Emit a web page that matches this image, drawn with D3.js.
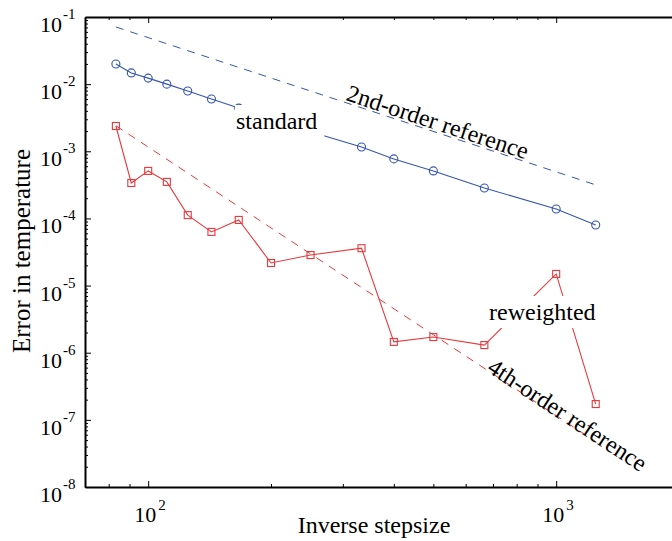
<!DOCTYPE html>
<html>
<head>
<meta charset="utf-8">
<script src="https://cdn.jsdelivr.net/npm/d3@7"></script>
<style>
  body { margin: 0; background: #fff; }
  svg { display: block; font-family: "Liberation Serif", "Times New Roman", serif; }
</style>
</head>
<body>
<div id="chart"></div>
<script>
// inverse stepsize (1/h) for every run
const stepsizes = [83.33, 90.91, 100, 111.1, 125, 142.9, 166.7, 200, 250, 333.3, 400, 500, 666.7, 1000, 1250];
const standardErr = [2.0e-2, 1.47e-2, 1.23e-2, 1.0e-2, 7.9e-3, 6.0e-3, 4.4e-3, 3.1e-3, 1.95e-3, 1.16e-3, 7.7e-4, 5.1e-4, 2.84e-4, 1.38e-4, 8.0e-5];
const reweightedErr = [2.38e-3, 3.37e-4, 5.1e-4, 3.5e-4, 1.12e-4, 6.3e-5, 9.5e-5, 2.17e-5, 2.85e-5, 3.6e-5, 1.45e-6, 1.71e-6, 1.30e-6, 1.49e-5, 1.72e-7];
// reference slopes, endpoints only
const refX = [83.33, 1250];
const ref2Err = [7.1e-2, 3.16e-4];
const ref4Err = [2.4e-3, 4.74e-8];

const yMajor = [-1, -2, -3, -4, -5, -6, -7, -8];
const xMajor = [2, 3];

const width = 672, height = 541;
const blue = "#3556b0", red = "#e8383c";

const svg = d3.select("#chart").append("svg")
    .attr("width", width)
    .attr("height", height);

const x = d3.scaleLog().domain([70, 2000]).range([85, 679]);
const y = d3.scaleLog().domain([1e-8, 1e-1]).range([487, 17]);

// minor tick positions
const yMinor = [];
for (let e = -8; e < -1; e++) for (let m = 2; m <= 9; m++) yMinor.push(m * Math.pow(10, e));
const xMinor = [];
for (let e = 1; e < 4; e++) for (let m = 2; m <= 9; m++) {
    const v = m * Math.pow(10, e);
    if (v > 70 && v < 2000) xMinor.push(v);
}

function styleAxis(g) {
    g.select(".domain").attr("stroke", "#000").attr("stroke-width", 2);
    g.selectAll(".tick line").attr("stroke", "#000").attr("stroke-width", 1);
}

// left axis
svg.append("g").attr("transform", "translate(85,0)")
    .call(d3.axisLeft(y).tickValues(yMinor).tickSize(-3).tickSizeOuter(0).tickFormat(""))
    .call(styleAxis);
svg.append("g").attr("transform", "translate(85,0)")
    .call(d3.axisLeft(y).tickValues(yMajor.map(e => Math.pow(10, e))).tickSize(-6).tickSizeOuter(0).tickFormat(""))
    .call(g => g.select(".domain").remove())
    .call(styleAxis);

// bottom axis
svg.append("g").attr("transform", "translate(0,487)")
    .call(d3.axisBottom(x).tickValues(xMinor).tickSize(-3).tickSizeOuter(0).tickFormat(""))
    .call(styleAxis);
svg.append("g").attr("transform", "translate(0,487)")
    .call(d3.axisBottom(x).tickValues(xMajor.map(e => Math.pow(10, e))).tickSize(-6).tickSizeOuter(0).tickFormat(""))
    .call(g => g.select(".domain").remove())
    .call(styleAxis);

// top box edge
svg.append("g").attr("transform", "translate(0,17)")
    .call(d3.axisTop(x).tickValues(xMinor).tickSize(-3).tickSizeOuter(0).tickFormat(""))
    .call(styleAxis);
svg.append("g").attr("transform", "translate(0,17)")
    .call(d3.axisTop(x).tickValues(xMajor.map(e => Math.pow(10, e))).tickSize(-6).tickSizeOuter(0).tickFormat(""))
    .call(g => g.select(".domain").remove())
    .call(styleAxis);

// tick labels 10^n
yMajor.forEach(e => {
    const yy = y(Math.pow(10, e));
    svg.append("text").attr("x", 62).attr("y", yy + 15)
        .attr("text-anchor", "end").style("font-size", "22px").text("10");
    svg.append("text").attr("x", 63).attr("y", yy + 2)
        .style("font-size", "15px").text(e);
});
xMajor.forEach(e => {
    const xx = x(Math.pow(10, e));
    svg.append("text").attr("x", xx + 8).attr("y", 522)
        .attr("text-anchor", "end").style("font-size", "22px").text("10");
    svg.append("text").attr("x", xx + 10).attr("y", 510)
        .style("font-size", "15px").text(e);
});

svg.append("text").attr("x", 374).attr("y", 533)
    .attr("text-anchor", "middle").style("font-size", "24px").text("Inverse stepsize");
svg.append("text")
    .attr("transform", "translate(30,251)rotate(-90)")
    .attr("text-anchor", "middle").style("font-size", "25px").text("Error in temperature");

const line = d3.line().x(d => x(d[0])).y(d => y(d[1]));

// reference lines
svg.append("path").datum(d3.zip(refX, ref2Err))
    .attr("d", line).attr("fill", "none").attr("stroke", blue)
    .attr("stroke-width", 1).attr("stroke-dasharray", "8,7");
svg.append("path").datum(d3.zip(refX, ref4Err))
    .attr("d", line).attr("fill", "none").attr("stroke", red)
    .attr("stroke-width", 1).attr("stroke-dasharray", "8,7");

// standard (blue circles)
const stdData = d3.zip(stepsizes, standardErr);
svg.append("path").datum(stdData)
    .attr("d", line).attr("fill", "none").attr("stroke", blue).attr("stroke-width", 1.1);
svg.selectAll(".std").data(stdData).enter().append("circle")
    .attr("class", "std")
    .attr("cx", d => x(d[0])).attr("cy", d => y(d[1])).attr("r", 4)
    .attr("fill", "none").attr("stroke", blue).attr("stroke-width", 1.1);

// reweighted (red squares)
const rwData = d3.zip(stepsizes, reweightedErr);
svg.append("path").datum(rwData)
    .attr("d", line).attr("fill", "none").attr("stroke", red).attr("stroke-width", 1.1);
svg.selectAll(".rw").data(rwData).enter().append("rect")
    .attr("class", "rw")
    .attr("x", d => x(d[0]) - 3.5).attr("y", d => y(d[1]) - 3.5)
    .attr("width", 7).attr("height", 7)
    .attr("fill", "none").attr("stroke", red).attr("stroke-width", 1.1);

// labels with white background
function boxedLabel(tx, ty, txt) {
    const g = svg.append("g");
    const r = g.append("rect").attr("fill", "#fff");
    const t = g.append("text").attr("x", tx).attr("y", ty)
        .style("font-size", "24px").text(txt);
    const b = t.node().getBBox();
    r.attr("x", b.x - 1).attr("y", ty - 24)
        .attr("width", b.width + 8).attr("height", 32);
}
boxedLabel(236, 129, "standard");
boxedLabel(489, 320, "reweighted");

svg.append("text")
    .attr("transform", "translate(345,100)rotate(18.2)")
    .style("font-size", "24px").text("2nd-order reference");
svg.append("text")
    .attr("transform", "translate(486,371)rotate(33.3)")
    .style("font-size", "24px").text("4th-order reference");
</script>
</body>
</html>
